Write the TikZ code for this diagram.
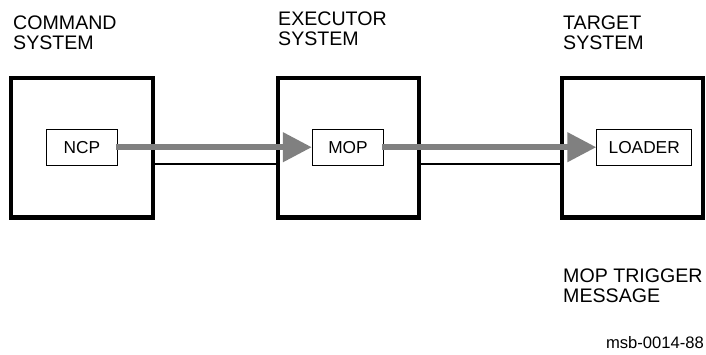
\documentclass[tikz,border=0pt]{standalone}
\usepackage{fontspec}
\setmainfont{Liberation Sans}
\usepackage{tikz}
\usetikzlibrary{arrows.meta,positioning}

\definecolor{flowgray}{RGB}{128,128,128}

\tikzset{
  sysbox/.style={draw, line width=4.2pt, minimum width=141.5pt, minimum height=139.5pt, inner sep=0pt},
  procbox/.style={draw, line width=0.8pt, minimum width=71.5pt, minimum height=35.7pt, inner sep=0pt, font=\fontsize{17.3}{19}\selectfont},
  title/.style={anchor=base west, inner sep=0pt, align=left, font=\fontsize{19.6}{20.2}\selectfont},
  flow/.style={draw=flowgray, line width=6pt, -{Triangle[length=29pt,width=28.5pt]}},
  link/.style={draw, line width=2.2pt}
}

\begin{document}
\begin{tikzpicture}[x=1pt, y=-1pt]
\useasboundingbox (0,0) rectangle (706,354);

% systems
\node[sysbox] (cmd) at (82,147.7) {};
\node[sysbox] (exe) at (348.4,147.7) {};
\node[sysbox, minimum width=140.7pt] (tgt) at (632.3,147.7) {};

% processes
\node[procbox] (ncp) at (82,147.2) {NCP};
\node[procbox] (mop) at (348,147.2) {MOP};
\node[procbox, minimum width=95pt] (loader) at (644.2,147.2) {LOADER};

% titles (base is the last line)
\node[title] (cmdtitle) at (13,49.3) {COMMAND\\SYSTEM};
\node[title] (exetitle) at (278,45.7) {EXECUTOR\\SYSTEM};
\node[title] (tgttitle) at (563,49.3) {TARGET\\SYSTEM};
\node[title] (msgtitle) at (563,302.3) {MOP TRIGGER\\MESSAGE};
\node[anchor=base east, inner sep=0pt, font=\fontsize{16.6}{18}\selectfont] (figid) at (704,348.3) {msb-0014-88};

% links
\draw[link] (cmd.east |- 0,164) -- (exe.west |- 0,164);
\draw[link] (exe.east |- 0,164) -- (tgt.west |- 0,164);

% trigger flow
\draw[flow, shorten <=-2pt] (ncp.east) -- (mop.west);
\draw[flow, shorten <=-2pt] (mop.east) -- (loader.west);
\end{tikzpicture}
\end{document}
